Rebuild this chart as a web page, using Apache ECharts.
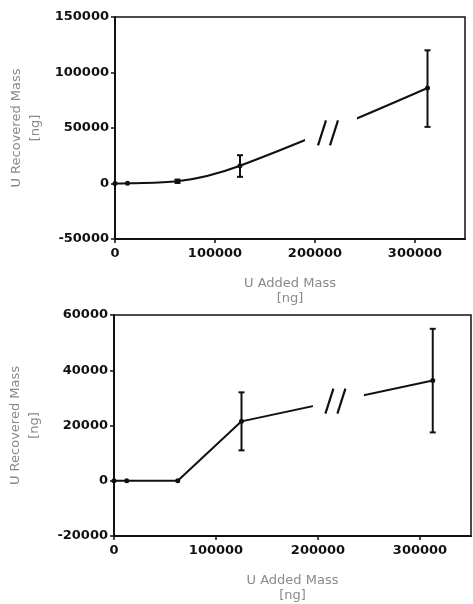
<!DOCTYPE html>
<html>
<head>
<meta charset="utf-8">
<script src="https://cdn.jsdelivr.net/npm/echarts@6/dist/echarts.min.js"></script>
<style>
  html, body { margin: 0; padding: 0; background: #fff; }
  #chart { width: 473px; height: 604px; }
</style>
</head>
<body>
<div id="chart"></div>
<script>
// U added mass [ng] (same for both panels)
const addedMass = [0, 12500, 62500, 125000, 312500]

// top panel
const topRecovered = [0, 200, 2000, 16000, 86000]
const topErrLow = [0, 0, 500, 6000, 51000]
const topErrHigh = [0, 0, 3500, 25500, 120000]
const topBreak = [190000, 242000, 46000] // [x from, x to, y]

// bottom panel
const bottomRecovered = [0, 0, 0, 21500, 36300]
const bottomErrLow = [0, 0, 0, 11000, 17500]
const bottomErrHigh = [0, 0, 0, 32000, 55000]
const bottomBreak = [195000, 245000, 29000]

const xTicks = [0, 100000, 200000, 300000]
const topYTicks = [-50000, 0, 50000, 100000, 150000]
const bottomYTicks = [-20000, 0, 20000, 40000, 60000]

const INK = '#111'
const NAME_COLOR = '#8a8a8a'
const FONT = 'DejaVu Sans'

function pairs(xs, ys) {
  return xs.map((x, i) => [x, ys[i]])
}

function errData(xs, lo, hi) {
  return xs.map((x, i) => [x, lo[i], hi[i]])
    .filter(d => d[2] - d[1] > 0)
}

function renderErr(params, api) {
  const top = api.coord([api.value(0), api.value(2)])
  const bot = api.coord([api.value(0), api.value(1)])
  const cap = 3
  const style = { stroke: INK, lineWidth: 2 }
  return {
    type: 'group',
    children: [
      { type: 'line', shape: { x1: top[0], y1: top[1], x2: bot[0], y2: bot[1] }, style },
      { type: 'line', shape: { x1: top[0] - cap, y1: top[1], x2: top[0] + cap, y2: top[1] }, style },
      { type: 'line', shape: { x1: bot[0] - cap, y1: bot[1], x2: bot[0] + cap, y2: bot[1] }, style }
    ]
  }
}

// white gap in the line with a "//" break mark
function renderBreak(params, api) {
  const a = api.coord([api.value(0), api.value(2)])
  const b = api.coord([api.value(1), api.value(2)])
  const cx = (a[0] + b[0]) / 2 - 2
  const cy = a[1]
  const style = { stroke: INK, lineWidth: 2.2 }
  return {
    type: 'group',
    children: [
      { type: 'rect', shape: { x: a[0], y: cy - 26, width: b[0] - a[0], height: 52 }, style: { fill: '#fff' } },
      { type: 'line', shape: { x1: cx - 11, y1: cy + 13, x2: cx - 3, y2: cy - 12 }, style },
      { type: 'line', shape: { x1: cx + 1, y1: cy + 13, x2: cx + 9, y2: cy - 12 }, style }
    ]
  }
}

function xAxis(gridIndex) {
  return {
    type: 'value',
    gridIndex,
    min: 0,
    max: 350000,
    interval: 100000,
    name: 'U Added Mass\n[ng]',
    nameLocation: 'middle',
    nameGap: 37,
    nameMoveOverlap: false,
    nameTextStyle: { color: NAME_COLOR, fontFamily: FONT, fontSize: 13, lineHeight: 15 },
    axisLine: { show: true, onZero: false, lineStyle: { color: INK, width: 2 } },
    axisTick: { show: true, length: 4, lineStyle: { color: INK, width: 1.5 } },
    axisLabel: {
      color: INK, fontFamily: FONT, fontWeight: 'bold', fontSize: 13, margin: 8,
      showMaxLabel: false,
      formatter: v => xTicks.includes(v) ? String(v) : ''
    },
    splitLine: { show: false }
  }
}

function yAxis(gridIndex, ticks, interval) {
  return {
    type: 'value',
    gridIndex,
    min: ticks[0],
    max: ticks[ticks.length - 1],
    interval,
    name: 'U Recovered Mass\n[ng]',
    nameLocation: 'middle',
    nameGap: 70,
    nameMoveOverlap: false,
    nameRotate: 90,
    nameTextStyle: { color: NAME_COLOR, fontFamily: FONT, fontSize: 13, lineHeight: 19 },
    axisLine: { show: true, onZero: false, lineStyle: { color: INK, width: 2 } },
    axisTick: { show: true, length: 4, lineStyle: { color: INK, width: 1.5 } },
    axisLabel: {
      color: INK, fontFamily: FONT, fontWeight: 'bold', fontSize: 13, margin: 6,
      formatter: v => String(v)
    },
    splitLine: { show: false }
  }
}

function lineSeries(idx, ys, smooth) {
  return {
    type: 'line',
    xAxisIndex: idx,
    yAxisIndex: idx,
    data: pairs(addedMass, ys),
    smooth,
    symbol: 'circle',
    symbolSize: 5,
    lineStyle: { color: INK, width: 2 },
    itemStyle: { color: INK },
    z: 2
  }
}

const chart = echarts.init(document.getElementById('chart'))

chart.setOption({
  animation: false,
  backgroundColor: '#fff',
  grid: [
    { left: 115, top: 17, width: 350, height: 222, show: true, borderColor: INK, borderWidth: 1.5, outerBoundsMode: 'none', containLabel: false },
    { left: 114, top: 315, width: 357, height: 221, show: true, borderColor: INK, borderWidth: 1.5, outerBoundsMode: 'none', containLabel: false }
  ],
  xAxis: [xAxis(0), xAxis(1)],
  yAxis: [yAxis(0, topYTicks, 50000), yAxis(1, bottomYTicks, 20000)],
  series: [
    lineSeries(0, topRecovered, 0.35),
    {
      type: 'custom', xAxisIndex: 0, yAxisIndex: 0,
      data: errData(addedMass, topErrLow, topErrHigh),
      renderItem: renderErr, z: 3
    },
    {
      type: 'custom', xAxisIndex: 0, yAxisIndex: 0,
      data: [topBreak], renderItem: renderBreak, z: 4, silent: true
    },
    lineSeries(1, bottomRecovered, false),
    {
      type: 'custom', xAxisIndex: 1, yAxisIndex: 1,
      data: errData(addedMass, bottomErrLow, bottomErrHigh),
      renderItem: renderErr, z: 3
    },
    {
      type: 'custom', xAxisIndex: 1, yAxisIndex: 1,
      data: [bottomBreak], renderItem: renderBreak, z: 4, silent: true
    }
  ]
})
</script>
</body>
</html>
